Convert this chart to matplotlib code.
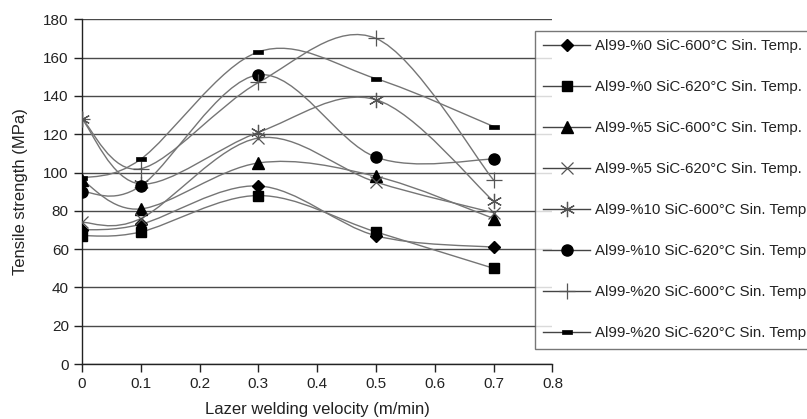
import numpy as np
import matplotlib
matplotlib.use("Agg")
import matplotlib.pyplot as plt
from matplotlib.path import Path
from matplotlib.patches import PathPatch
from matplotlib.lines import Line2D

plt.rcParams['font.family'] = ['Liberation Sans', 'DejaVu Sans']

# data
velocity = [0, 0.1, 0.3, 0.5, 0.7]
labels = ["Al99-%0 SiC-600°C Sin. Temp.",
          "Al99-%0 SiC-620°C Sin. Temp.",
          "Al99-%5 SiC-600°C Sin. Temp.",
          "Al99-%5 SiC-620°C Sin. Temp.",
          "Al99-%10 SiC-600°C Sin. Temp.",
          "Al99-%10 SiC-620°C Sin. Temp.",
          "Al99-%20 SiC-600°C Sin. Temp.",
          "Al99-%20 SiC-620°C Sin. Temp."]
sic0_600 = [70, 73, 93, 67, 61]
sic0_620 = [67, 69, 88, 69, 50]
sic5_600 = [96, 81, 105, 98, 76]
sic5_620 = [74, 76, 118, 95, 79]
sic10_600 = [128, 94, 121, 138, 85]
sic10_620 = [90, 93, 151, 108, 107]
sic20_600 = [128, 102, 147, 170, 96]
sic20_620 = [97, 107, 163, 149, 124]
series = [sic0_600, sic0_620, sic5_600, sic5_620,
          sic10_600, sic10_620, sic20_600, sic20_620]

# marker styles per series
dash = Path([(-1, -0.5), (1, -0.5), (1, 0.5), (-1, 0.5), (-1, -0.5)],
            [Path.MOVETO, Path.LINETO, Path.LINETO, Path.LINETO, Path.CLOSEPOLY])
styles = [
    dict(marker='D', ms=6.5, mfc='k', mec='k', mew=1),
    dict(marker='s', ms=7.5, mfc='k', mec='k', mew=1),
    dict(marker='^', ms=8.5, mfc='k', mec='k', mew=1),
    dict(marker='x', ms=9, mfc='none', mec='#555555', mew=0.9),
    dict(marker=(6, 2, 0), ms=11, mfc='none', mec='#555555', mew=0.9),
    dict(marker='o', ms=8, mfc='k', mec='k', mew=1),
    dict(marker='+', ms=12, mfc='none', mec='#555555', mew=0.9),
    dict(marker=dash, ms=7, mfc='k', mec='k', mew=0.5),
]
line_col = '#757575'


def smooth_path(xs, ys):
    # Excel-like smoothed line: cubic Bezier segments, Catmull-Rom control points
    pts = np.column_stack([xs, ys]).astype(float)
    n = len(pts)
    verts = [pts[0]]
    codes = [Path.MOVETO]
    for i in range(n - 1):
        p0 = pts[i - 1] if i > 0 else pts[i]
        p1 = pts[i]
        p2 = pts[i + 1]
        p3 = pts[i + 2] if i + 2 < n else pts[i + 1]
        verts += [p1 + (p2 - p0) / 6, p2 - (p3 - p1) / 6, p2]
        codes += [Path.CURVE4] * 3
    return Path(verts, codes)


fig = plt.figure(figsize=(8.07, 4.19), dpi=100)
ax = fig.add_axes([0.1016, 0.131, 0.583, 0.823])

for vals in series:
    ax.add_patch(PathPatch(smooth_path(velocity, vals), fill=False,
                           edgecolor=line_col, lw=1.0, zorder=2))

handles = []
for vals, st, lab in zip(series, styles, labels):
    ax.plot(velocity, vals, ls='none', zorder=3, **st)
    handles.append(Line2D([], [], color='#444444', lw=1.0, label=lab, **st))

ax.set_xlim(0, 0.8)
ax.set_ylim(0, 180)
ax.set_xticks(np.arange(0, 0.81, 0.1))
ax.set_xticklabels(['0', '0.1', '0.2', '0.3', '0.4', '0.5', '0.6', '0.7', '0.8'])
ax.set_yticks(np.arange(0, 181, 20))
ax.yaxis.grid(True, color='#4a4a4a', lw=1.0)
ax.set_axisbelow(True)
for s in ['top', 'right']:
    ax.spines[s].set_visible(False)
for s in ['left', 'bottom']:
    ax.spines[s].set_color('#222222')
    ax.spines[s].set_linewidth(1.0)
ax.tick_params(direction='out', length=6, width=1, color='#222222',
               labelsize=11, labelcolor='#222222')
ax.set_xlabel("Lazer welding velocity (m/min)", fontsize=12, color='#222222', labelpad=8)
ax.set_ylabel("Tensile strength (MPa)", fontsize=12, color='#222222', labelpad=11)

leg = fig.legend(handles=handles, loc='upper left', bbox_to_anchor=(0.663, 0.926),
                 fontsize=10.8, frameon=True, fancybox=False, numpoints=1,
                 handlelength=3.1, handletextpad=0.35, labelspacing=1.8,
                 borderpad=0.55, borderaxespad=0)
leg.get_frame().set_edgecolor('#555555')
leg.get_frame().set_linewidth(1.0)
for t in leg.get_texts():
    t.set_color('#222222')

fig.savefig("out.png", dpi=100)
